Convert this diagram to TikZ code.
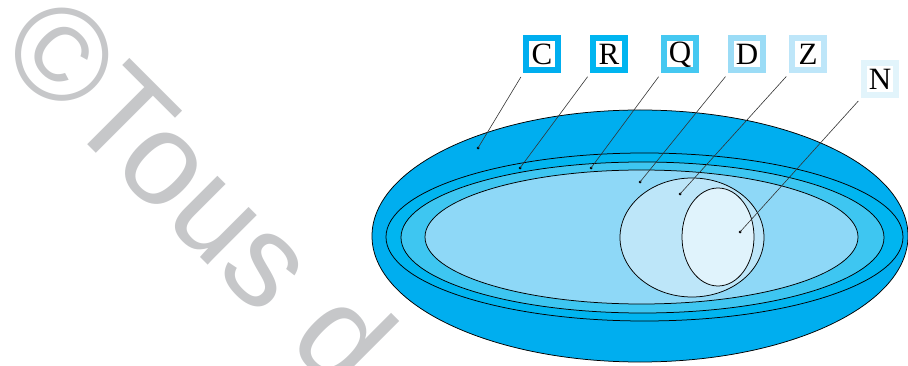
\documentclass[tikz,border=0pt]{standalone}
\usepackage{fontspec}
\newfontfamily\wmfont{Liberation Sans}
\newfontfamily\lblfont{Liberation Serif}
\definecolor{wmgray}{HTML}{C6C7C9}
\definecolor{fC}{HTML}{00AEEF}
\definecolor{fR}{HTML}{00B5F0}
\definecolor{fQ}{HTML}{3EC6F1}
\definecolor{fD}{HTML}{8ED8F7}
\definecolor{fZ}{HTML}{BDE6F9}
\definecolor{fN}{HTML}{E0F3FC}
\definecolor{bC}{HTML}{00AEEF}
\definecolor{bR}{HTML}{00B5F0}
\definecolor{bQ}{HTML}{45C8F1}
\definecolor{bD}{HTML}{9BDCF6}
\definecolor{bZ}{HTML}{BEE6F9}
\definecolor{bN}{HTML}{E2F4FB}
\tikzset{
  setline/.style={draw=black, line width=0.75pt},
  labelbox/.style={draw=#1, line width=6pt, fill=white, minimum width=32pt, minimum height=32pt, inner sep=0pt, font=\lblfont\fontsize{31}{31}\selectfont},
  leader/.style={draw=black!80, line width=0.6pt, shorten <=4pt}
}
\begin{document}
\begin{tikzpicture}[x=1pt,y=-1pt]
\useasboundingbox (0,0) rectangle (908,366);
\clip (0,0) rectangle (908,366);
% watermark
\node[rotate=-45, anchor=base west, text=wmgray, font=\wmfont\fontsize{132}{132}\selectfont, inner sep=0pt] (wm) at (-5,52) {©Tous d};
% sets
\path[setline, fill=fC] (640,236) ellipse [x radius=268, y radius=126];
\path[setline, fill=fR] (644.5,237) ellipse [x radius=258.5, y radius=84];
\path[setline, fill=fQ] (642.5,237.5) ellipse [x radius=241.5, y radius=75.5];
\path[setline, fill=fD] (641.5,237) ellipse [x radius=216.5, y radius=67];
\path[setline, fill=fZ] (692,237.5) ellipse [x radius=72, y radius=59.5];
\path[setline, fill=fN] (718,237) ellipse [x radius=36, y radius=49];
% dots
\coordinate (c) at (478,148);
\coordinate (r) at (520,168);
\coordinate (q) at (591,168);
\coordinate (d) at (640,182);
\coordinate (z) at (680,194);
\coordinate (n) at (740,232);
\foreach \p in {c,r,q,d,z,n} \fill[black] (\p) circle [radius=1.5pt];
% labels
\node[labelbox=bC] (C) at (542,54.5) {C};
\node[labelbox=bR] (R) at (609,54.5) {R};
\node[labelbox=bQ] (Q) at (680,54.5) {Q};
\node[labelbox=bD] (D) at (747,54.5) {D};
\node[labelbox=bZ] (Z) at (808,54.5) {Z};
\node[labelbox=bN] (N) at (880,79) {N};
% leaders
\draw[leader] (C.south west) -- (c);
\draw[leader] (R.south west) -- (r);
\draw[leader] (Q.south west) -- (q);
\draw[leader] (D.south west) -- (d);
\draw[leader] (Z.south west) -- (z);
\draw[leader] (N.south west) -- (n);
\end{tikzpicture}
\end{document}
